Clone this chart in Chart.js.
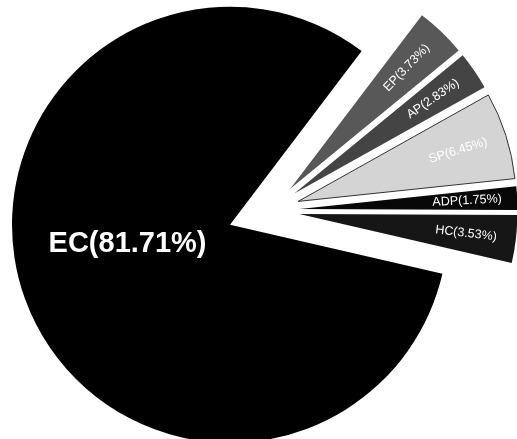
<!DOCTYPE html>
<html>
<head>
<meta charset="utf-8">
<title>EC share pie</title>
<script src="https://cdn.jsdelivr.net/npm/chart.js@4.4.0/dist/chart.umd.min.js"></script>
<style>
  html, body { margin: 0; padding: 0; background: #fff; }
  canvas { display: block; }
</style>
</head>
<body>
<canvas id="pieChart" width="517" height="439"></canvas>
<script>
// shares (percent)
const categories = ['EC', 'EP', 'AP', 'SP', 'ADP', 'HC'];
const shares = [81.71, 3.73, 2.83, 6.45, 1.75, 3.53];

// look
const sliceColors = ['#000000', '#585858', '#444444', '#d4d4d4', '#080808', '#161616'];
const sliceShift = [42, 30, 30, 30, 30, 30]; // px each slice is pulled out
const pieRadius = 218;

// Chart.js moves an arc by offset/4 and also grows + narrows it;
// undo that so the pulled-out slices keep their true radius and angle
const keepSliceSize = {
  id: 'keepSliceSize',
  afterDatasetUpdate(chart, args) {
    args.meta.data.forEach((arc, i) => {
      const fix = 1 - Math.sin(Math.min(Math.PI, arc.circumference));
      const grow = sliceShift[i] * fix;
      arc.outerRadius = pieRadius - grow;
      const narrow = grow / (2 * Math.PI * pieRadius);
      arc.startAngle -= narrow;
      arc.endAngle += narrow;
    });
  }
};

const sliceLabels = {
  id: 'sliceLabels',
  afterDatasetsDraw(chart) {
    const ctx = chart.ctx;
    const arcs = chart.getDatasetMeta(0).data;
    ctx.save();
    ctx.fillStyle = '#fff';
    ctx.textAlign = 'center';
    ctx.textBaseline = 'middle';
    arcs.forEach((arc, i) => {
      const mid = (arc.startAngle + arc.endAngle) / 2;
      const ax = arc.x + Math.cos(mid) * sliceShift[i];
      const ay = arc.y + Math.sin(mid) * sliceShift[i];
      const text = categories[i] + '(' + shares[i].toFixed(2) + '%)';
      if (i === 0) {
        ctx.font = 'bold 29px "Liberation Sans", Arial, sans-serif';
        ctx.fillText(text, ax - 0.47 * pieRadius, ay + 0.09 * pieRadius);
      } else {
        ctx.save();
        ctx.translate(ax + Math.cos(mid) * 0.77 * pieRadius, ay + Math.sin(mid) * 0.77 * pieRadius);
        ctx.rotate(mid);
        ctx.font = '12.5px "Liberation Sans", Arial, sans-serif';
        ctx.fillText(text, 0, 0);
        ctx.restore();
      }
    });
    ctx.restore();
  }
};

new Chart(document.getElementById('pieChart'), {
  type: 'pie',
  data: {
    labels: categories,
    datasets: [{
      data: shares,
      backgroundColor: sliceColors,
      borderWidth: [0, 0, 0, 1, 0, 0],
      borderColor: '#333',
      offset: sliceShift.map(s => s * 4),
      radius: pieRadius,
      clip: false
    }]
  },
  options: {
    responsive: false,
    animation: false,
    rotation: 103,
    layout: { padding: { left: 22, right: 0, top: 0, bottom: 18 } },
    plugins: {
      legend: { display: false },
      tooltip: { enabled: false }
    }
  },
  plugins: [keepSliceSize, sliceLabels]
});
</script>
</body>
</html>
